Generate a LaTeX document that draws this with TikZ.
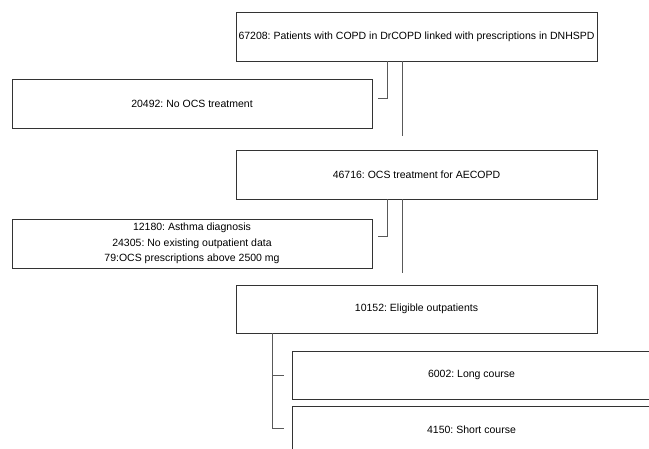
\documentclass[tikz,border=0pt]{standalone}
\usepackage{fontspec}
\setmainfont{Liberation Sans}
\frenchspacing
\begin{document}
\begin{tikzpicture}[x=1pt, y=-1pt,
  stage/.style={draw=black!80, line width=0.9pt, align=center, minimum width=361pt, minimum height=49pt, inner sep=2pt, font=\fontsize{10.5}{15.5}\selectfont},
  link/.style={draw=black!65, line width=0.9pt}]
\clip (0,0) rectangle (649,449);
\node[stage] (n1) at (416.5,36.5) {67208: Patients with COPD in DrCOPD linked with prescriptions in DNHSPD};
\node[stage, minimum width=360pt] (n2) at (192,103.5) {20492: No OCS treatment};
\node[stage] (n3) at (416.5,174.5) {46716: OCS treatment for AECOPD};
\node[stage, minimum width=360pt] (n4) at (192,243.5) {12180: Asthma diagnosis\\24305: No existing outpatient data\\79:OCS prescriptions above 2500 mg};
\node[stage, minimum height=48pt] (n5) at (416.5,309) {10152: Eligible outpatients};
\node[stage, minimum width=359pt, minimum height=48pt] (n6) at (471.5,375) {6002: Long course};
\node[stage, minimum width=359pt, minimum height=48pt] (n7) at (471.5,430) {4150: Short course};
\coordinate (e1) at (378,98);
\coordinate (t1) at (402,136);
\coordinate (e3) at (378,236);
\coordinate (t3) at (402,273);
\draw[link] (n1.south -| 387,0) |- (e1);
\draw[link] (n1.south -| t1) -- (t1);
\draw[link] (n3.south -| 387,0) |- (e3);
\draw[link] (n3.south -| t3) -- (t3);
\draw[link] (n5.south -| 272,0) |- ([xshift=-8pt, yshift=2pt]n7.west);
\draw[link] ([xshift=-8pt]n6.west) -- ++(-12,0);
\end{tikzpicture}
\end{document}
